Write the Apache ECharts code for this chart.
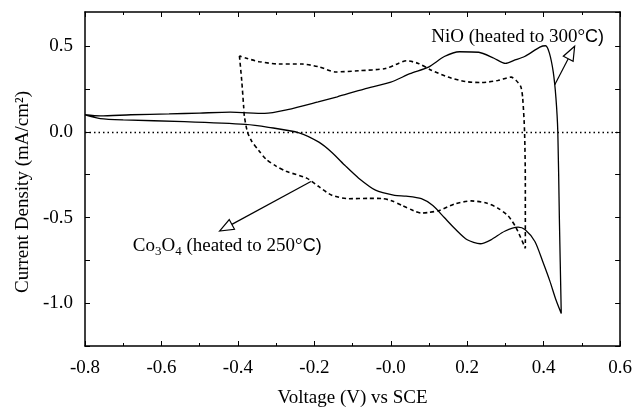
<!DOCTYPE html>
<html>
<head>
<meta charset="utf-8">
<script src="https://cdn.jsdelivr.net/npm/echarts@6/dist/echarts.min.js"></script>
<style>
  html, body { margin: 0; padding: 0; background: #fff; }
  #main { width: 635px; height: 413px; }
</style>
</head>
<body>
<div id="main"></div>
<script>
// NiO (heated to 300°C), solid loop: [voltage, current density]
const nioCurve = [
  [-0.80, 0.100], [-0.76, 0.093], [-0.68, 0.100], [-0.58, 0.105], [-0.50, 0.110],
  [-0.42, 0.115], [-0.33, 0.108], [-0.27, 0.130], [-0.19, 0.175], [-0.14, 0.205],
  [-0.07, 0.250], [0.00, 0.290], [0.05, 0.340], [0.10, 0.380], [0.14, 0.440],
  [0.18, 0.468], [0.23, 0.465], [0.27, 0.430], [0.30, 0.400], [0.325, 0.420],
  [0.35, 0.440], [0.39, 0.495], [0.405, 0.503], [0.415, 0.460], [0.425, 0.350],
  [0.432, 0.200], [0.437, 0.000], [0.441, -0.500], [0.446, -1.060],
  [0.432, -0.980], [0.416, -0.870], [0.398, -0.760], [0.377, -0.640], [0.351, -0.570],
  [0.333, -0.556], [0.298, -0.580], [0.262, -0.630], [0.234, -0.653], [0.20, -0.630],
  [0.17, -0.570], [0.14, -0.500], [0.11, -0.430], [0.08, -0.390], [0.04, -0.375], [0.01, -0.370],
  [-0.04, -0.340], [-0.084, -0.270], [-0.118, -0.200], [-0.154, -0.120], [-0.188, -0.060],
  [-0.24, -0.005], [-0.32, 0.027], [-0.38, 0.044], [-0.54, 0.060], [-0.70, 0.070],
  [-0.76, 0.078], [-0.80, 0.100]
];

// Co3O4 (heated to 250°C), dashed loop
const co3o4Curve = [
  [-0.396, 0.444], [-0.39, 0.300], [-0.385, 0.150], [-0.383, 0.090], [-0.375, 0.000],
  [-0.365, -0.050], [-0.345, -0.110], [-0.326, -0.160], [-0.30, -0.200], [-0.274, -0.230],
  [-0.22, -0.270], [-0.188, -0.320], [-0.154, -0.370], [-0.11, -0.390], [-0.058, -0.388],
  [-0.02, -0.390], [0.00, -0.400], [0.03, -0.430], [0.06, -0.460], [0.08, -0.474],
  [0.10, -0.470], [0.125, -0.460], [0.168, -0.420], [0.21, -0.403], [0.25, -0.415],
  [0.28, -0.445], [0.307, -0.490], [0.328, -0.560], [0.352, -0.680], [0.352, -0.300],
  [0.35, 0.000], [0.345, 0.200], [0.34, 0.265], [0.328, 0.300], [0.315, 0.320],
  [0.28, 0.300], [0.237, 0.288], [0.195, 0.294], [0.15, 0.320], [0.106, 0.360],
  [0.072, 0.400], [0.041, 0.415], [0.02, 0.400], [-0.014, 0.370], [-0.084, 0.357],
  [-0.144, 0.350], [-0.188, 0.380], [-0.232, 0.396], [-0.292, 0.396], [-0.344, 0.410],
  [-0.378, 0.430], [-0.396, 0.444]
];

const xLabels = ['-0.8', '-0.6', '-0.4', '-0.2', '-0.0', '0.2', '0.4', '0.6'];
const yLabels = ['-1.0', '-0.5', '0.0', '0.5'];

const serif = 'Liberation Serif';
const fs = 19;

function xFmt(v) {
  const i = Math.round((v + 0.8) / 0.2);
  return Math.abs(v - (-0.8 + i * 0.2)) < 1e-6 ? (xLabels[i] || '') : '';
}
function yFmt(v) {
  const i = Math.round((v + 1.0) / 0.5);
  return Math.abs(v - (-1.0 + i * 0.5)) < 1e-6 ? (yLabels[i] || '') : '';
}

const axisCommon = {
  axisLine: { show: true, onZero: false, lineStyle: { color: '#000', width: 1.5 } },
  axisTick: { show: true, inside: true, length: 5, lineStyle: { color: '#000', width: 1 } },
  splitLine: { show: false }
};

const chart = echarts.init(document.getElementById('main'));
chart.setOption({
  animation: false,
  grid: { left: 85, right: 13, top: 12, bottom: 62 },
  xAxis: [
    Object.assign({}, axisCommon, {
      type: 'value', min: -0.8, max: 0.6, interval: 0.2, position: 'bottom',
      minorTick: { show: true, splitNumber: 2, length: 3, lineStyle: { color: '#000' } },
      axisLabel: { formatter: xFmt, fontFamily: serif, fontSize: fs, color: '#000', margin: 13 },
      name: 'Voltage (V) vs SCE', nameLocation: 'middle', nameGap: 43,
      nameTextStyle: { fontFamily: serif, fontSize: fs, color: '#000' }
    }),
    Object.assign({}, axisCommon, {
      type: 'value', min: -0.8, max: 0.6, interval: 0.2, position: 'top',
      minorTick: { show: true, splitNumber: 2, length: 3, lineStyle: { color: '#000' } },
      axisLabel: { show: false }
    })
  ],
  yAxis: [
    Object.assign({}, axisCommon, {
      type: 'value', min: -1.25, max: 0.7, interval: 0.25, position: 'left',
      axisLabel: { formatter: yFmt, fontFamily: serif, fontSize: fs, color: '#000', margin: 12,
        showMaxLabel: false }
    }),
    Object.assign({}, axisCommon, {
      type: 'value', min: -1.25, max: 0.7, interval: 0.25, position: 'right',
      axisLabel: { show: false }
    })
  ],
  series: [
    {
      name: 'NiO', type: 'line', data: nioCurve, showSymbol: false, smooth: 0.25,
      lineStyle: { color: '#000', width: 1.3 },
      markLine: {
        silent: true, symbol: 'none', label: { show: false },
        lineStyle: { color: '#000', type: [1.5, 3], width: 1.3 },
        data: [{ yAxis: 0 }]
      }
    },
    {
      name: 'Co3O4', type: 'line', data: co3o4Curve, showSymbol: false, smooth: 0.25,
      lineStyle: { color: '#000', width: 1.6, type: [4, 3] }
    }
  ]
});

// annotations placed through the chart's own scales
function px(p) { return chart.convertToPixel({ gridIndex: 0 }, p); }
function arrow(from, to) {
  const a = px(from), b = px(to);
  const dx = b[0] - a[0], dy = b[1] - a[1];
  const len = Math.sqrt(dx * dx + dy * dy);
  const ux = dx / len, uy = dy / len;
  const L = 14, W = 5.5;
  const bx = b[0] - ux * L, by = b[1] - uy * L;
  return [
    { type: 'line', shape: { x1: a[0], y1: a[1], x2: bx, y2: by },
      style: { stroke: '#000', lineWidth: 1.2 } },
    { type: 'polygon', shape: { points: [[b[0], b[1]], [bx - uy * W, by + ux * W], [bx + uy * W, by - ux * W]] },
      style: { stroke: '#000', fill: '#fff', lineWidth: 1.2 } }
  ];
}

const nioText = px([0.106, 0.555]);
const coText = px([-0.675, -0.665]);

chart.setOption({
  graphic: [
    ...arrow([0.429, 0.275], [0.481, 0.50]),
    ...arrow([-0.209, -0.29], [-0.448, -0.579]),
    {
      type: 'text', x: nioText[0], y: nioText[1],
      style: {
        text: '{t|NiO (heated to 300°}{s|C)}',
        verticalAlign: 'middle', align: 'left',
        rich: {
          t: { fontFamily: serif, fontSize: fs, fill: '#000' },
          s: { fontFamily: 'Liberation Sans', fontSize: fs - 1, fill: '#000' }
        }
      }
    },
    {
      type: 'text', x: coText[0], y: coText[1],
      style: {
        text: '{t|Co}{b|3}{t|O}{b|4}{t| (heated to 250°}{s|C)}',
        verticalAlign: 'middle', align: 'left',
        rich: {
          t: { fontFamily: serif, fontSize: fs, fill: '#000', lineHeight: 24, verticalAlign: 'middle' },
          b: { fontFamily: serif, fontSize: 13, fill: '#000', lineHeight: 13, verticalAlign: 'bottom' },
          s: { fontFamily: 'Liberation Sans', fontSize: fs - 1, fill: '#000', lineHeight: 24, verticalAlign: 'middle' }
        }
      }
    },
    {
      type: 'text', x: 23, y: 192, rotation: Math.PI / 2,
      style: {
        text: 'Current Density (mA/cm²)', fontFamily: serif, fontSize: fs, fill: '#000',
        align: 'center', verticalAlign: 'middle'
      }
    }
  ]
});
</script>
</body>
</html>
